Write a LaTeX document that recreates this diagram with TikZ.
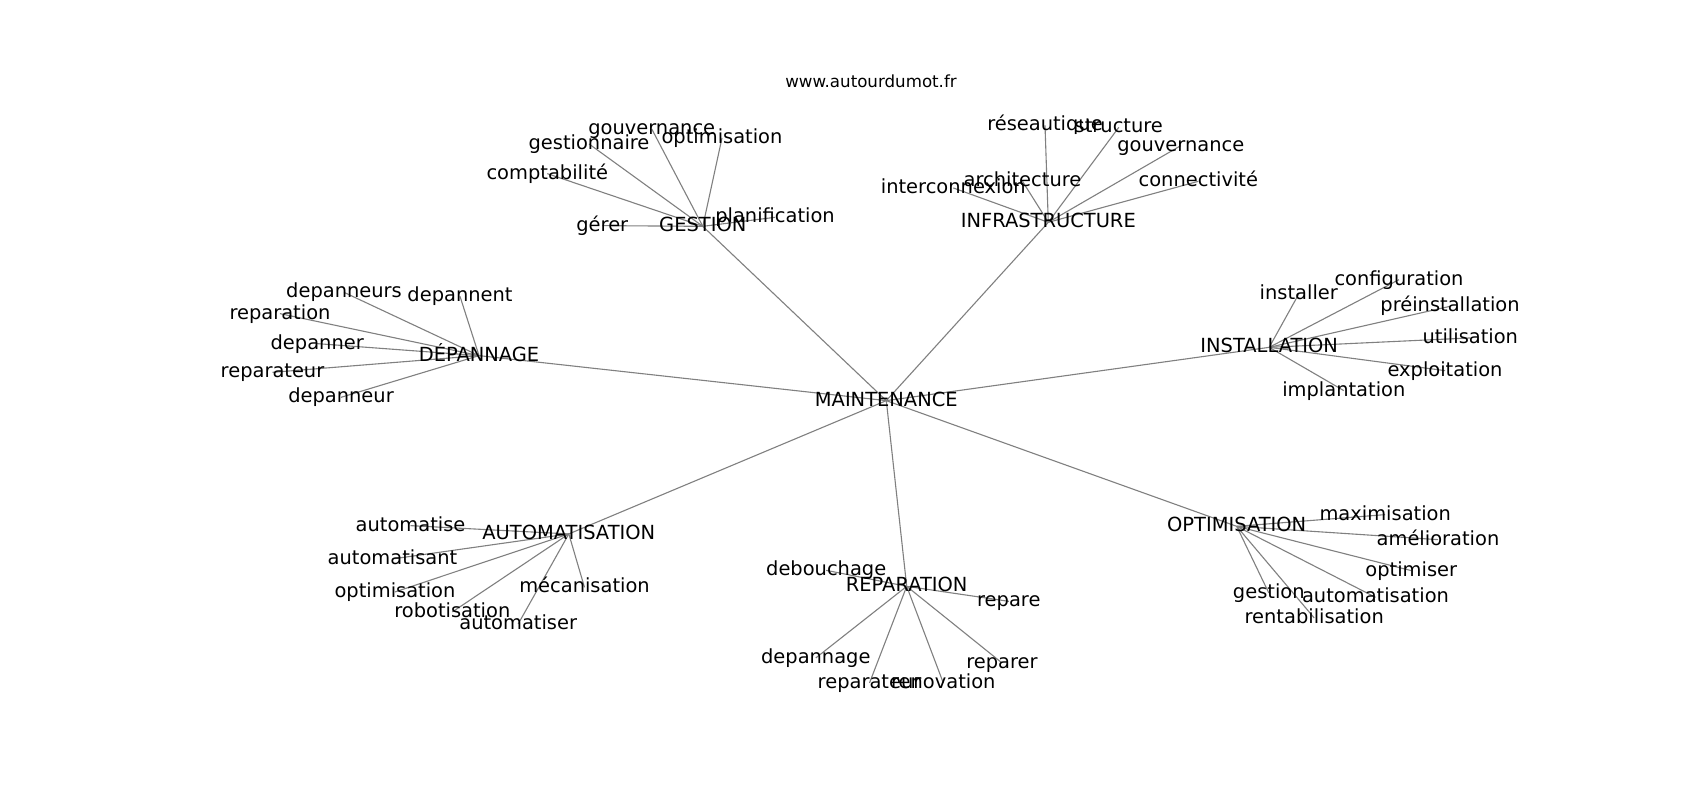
\documentclass[tikz,border=0pt]{standalone}
\usepackage{fontspec}
\setmainfont{DejaVu Sans}
\newcommand\mkpt[3]{\coordinate (#1) at (#2,#3-5.37);}
\begin{document}
\begin{tikzpicture}[x=1pt,y=-1pt,
  lbl/.style={anchor=base,yshift=-5.37pt,inner sep=0pt,text=black,font=\fontsize{19.44}{23}\selectfont},
  ttl/.style={anchor=base,inner sep=0pt,text=black,font=\fontsize{16.67}{20}\selectfont},
  edge/.style={draw=black!50,line width=1.1pt}]
\useasboundingbox[fill=white] (0,0) rectangle (1700,800);
% hubs
\mkpt{main}{886.3}{406}
\mkpt{ges}{702.8}{231.7}
\mkpt{inf}{1048.3}{227.7}
\mkpt{dep}{479}{361}
\mkpt{ins}{1269.2}{352.7}
\mkpt{aut}{568.8}{539.3}
\mkpt{rep}{906.7}{591.7}
\mkpt{opt}{1236.7}{531.7}
% GESTION leaves
\mkpt{ges1}{651.7}{134.3}
\mkpt{ges2}{589}{149.3}
\mkpt{ges3}{722}{143.3}
\mkpt{ges4}{547.3}{179}
\mkpt{ges5}{602.3}{231}
\mkpt{ges6}{775}{222.7}
% INFRASTRUCTURE leaves
\mkpt{inf1}{1045}{130.7}
\mkpt{inf2}{1118.8}{132.7}
\mkpt{inf3}{1180.8}{151}
\mkpt{inf4}{1022.5}{186.7}
\mkpt{inf5}{953.3}{193.3}
\mkpt{inf6}{1198.3}{186.7}
% DEPANNAGE leaves
\mkpt{dep1}{344}{297.7}
\mkpt{dep2}{460}{301.7}
\mkpt{dep3}{280}{319}
\mkpt{dep4}{317.2}{349}
\mkpt{dep5}{272.5}{377.7}
\mkpt{dep6}{341}{402.7}
% INSTALLATION leaves
\mkpt{ins1}{1399}{285}
\mkpt{ins2}{1298.8}{299.3}
\mkpt{ins3}{1450}{311.7}
\mkpt{ins4}{1470.3}{343.3}
\mkpt{ins5}{1445}{376}
\mkpt{ins6}{1343.8}{396}
% AUTOMATISATION leaves
\mkpt{aut1}{410.5}{531}
\mkpt{aut2}{392.5}{564.3}
\mkpt{aut3}{395}{597.3}
\mkpt{aut4}{584.5}{592.7}
\mkpt{aut5}{452.3}{617.3}
\mkpt{aut6}{518.2}{629.3}
% REPARATION leaves
\mkpt{rep1}{826.2}{575.7}
\mkpt{rep2}{1008.8}{606.7}
\mkpt{rep3}{815.8}{663.3}
\mkpt{rep4}{1002}{668.3}
\mkpt{rep5}{869.5}{688.3}
\mkpt{rep6}{943.3}{688.3}
% OPTIMISATION leaves
\mkpt{opt1}{1385.2}{520}
\mkpt{opt2}{1438}{545}
\mkpt{opt3}{1411.3}{576}
\mkpt{opt4}{1268.8}{598.3}
\mkpt{opt5}{1375.5}{602.7}
\mkpt{opt6}{1314.2}{623.3}
% edges
\foreach \h in {ges,inf,dep,ins,aut,rep,opt}{\draw[edge] (main) -- (\h);}
\foreach \h in {ges,inf,dep,ins,aut,rep,opt}{
  \foreach \i in {1,...,6}{\draw[edge] (\h) -- (\h\i);}}
% title
\node[ttl] (title) at (871,87.3) {www.autourdumot.fr};
% labels
\node[lbl] (main-t) at (main) {MAINTENANCE};
\node[lbl] (ges-t) at (ges) {GESTION};
\node[lbl] (inf-t) at (inf) {INFRASTRUCTURE};
\node[lbl] (dep-t) at (dep) {DÉPANNAGE};
\node[lbl] (ins-t) at (ins) {INSTALLATION};
\node[lbl] (aut-t) at (aut) {AUTOMATISATION};
\node[lbl] (rep-t) at (rep) {REPARATION};
\node[lbl] (opt-t) at (opt) {OPTIMISATION};
\node[lbl] (ges1-t) at (ges1) {gouvernance};
\node[lbl] (ges2-t) at (ges2) {gestionnaire};
\node[lbl] (ges3-t) at (ges3) {optimisation};
\node[lbl] (ges4-t) at (ges4) {comptabilité};
\node[lbl] (ges5-t) at (ges5) {gérer};
\node[lbl] (ges6-t) at (ges6) {planification};
\node[lbl] (inf1-t) at (inf1) {réseautique};
\node[lbl] (inf2-t) at (inf2) {structure};
\node[lbl] (inf3-t) at (inf3) {gouvernance};
\node[lbl] (inf4-t) at (inf4) {architecture};
\node[lbl] (inf5-t) at (inf5) {interconnexion};
\node[lbl] (inf6-t) at (inf6) {connectivité};
\node[lbl] (dep1-t) at (dep1) {depanneurs};
\node[lbl] (dep2-t) at (dep2) {depannent};
\node[lbl] (dep3-t) at (dep3) {reparation};
\node[lbl] (dep4-t) at (dep4) {depanner};
\node[lbl] (dep5-t) at (dep5) {reparateur};
\node[lbl] (dep6-t) at (dep6) {depanneur};
\node[lbl] (ins1-t) at (ins1) {configuration};
\node[lbl] (ins2-t) at (ins2) {installer};
\node[lbl] (ins3-t) at (ins3) {préinstallation};
\node[lbl] (ins4-t) at (ins4) {utilisation};
\node[lbl] (ins5-t) at (ins5) {exploitation};
\node[lbl] (ins6-t) at (ins6) {implantation};
\node[lbl] (aut1-t) at (aut1) {automatise};
\node[lbl] (aut2-t) at (aut2) {automatisant};
\node[lbl] (aut3-t) at (aut3) {optimisation};
\node[lbl] (aut4-t) at (aut4) {mécanisation};
\node[lbl] (aut5-t) at (aut5) {robotisation};
\node[lbl] (aut6-t) at (aut6) {automatiser};
\node[lbl] (rep1-t) at (rep1) {debouchage};
\node[lbl] (rep2-t) at (rep2) {repare};
\node[lbl] (rep3-t) at (rep3) {depannage};
\node[lbl] (rep4-t) at (rep4) {reparer};
\node[lbl] (rep5-t) at (rep5) {reparateur};
\node[lbl] (rep6-t) at (rep6) {renovation};
\node[lbl] (opt1-t) at (opt1) {maximisation};
\node[lbl] (opt2-t) at (opt2) {amélioration};
\node[lbl] (opt3-t) at (opt3) {optimiser};
\node[lbl] (opt4-t) at (opt4) {gestion};
\node[lbl] (opt5-t) at (opt5) {automatisation};
\node[lbl] (opt6-t) at (opt6) {rentabilisation};
\end{tikzpicture}
\end{document}
